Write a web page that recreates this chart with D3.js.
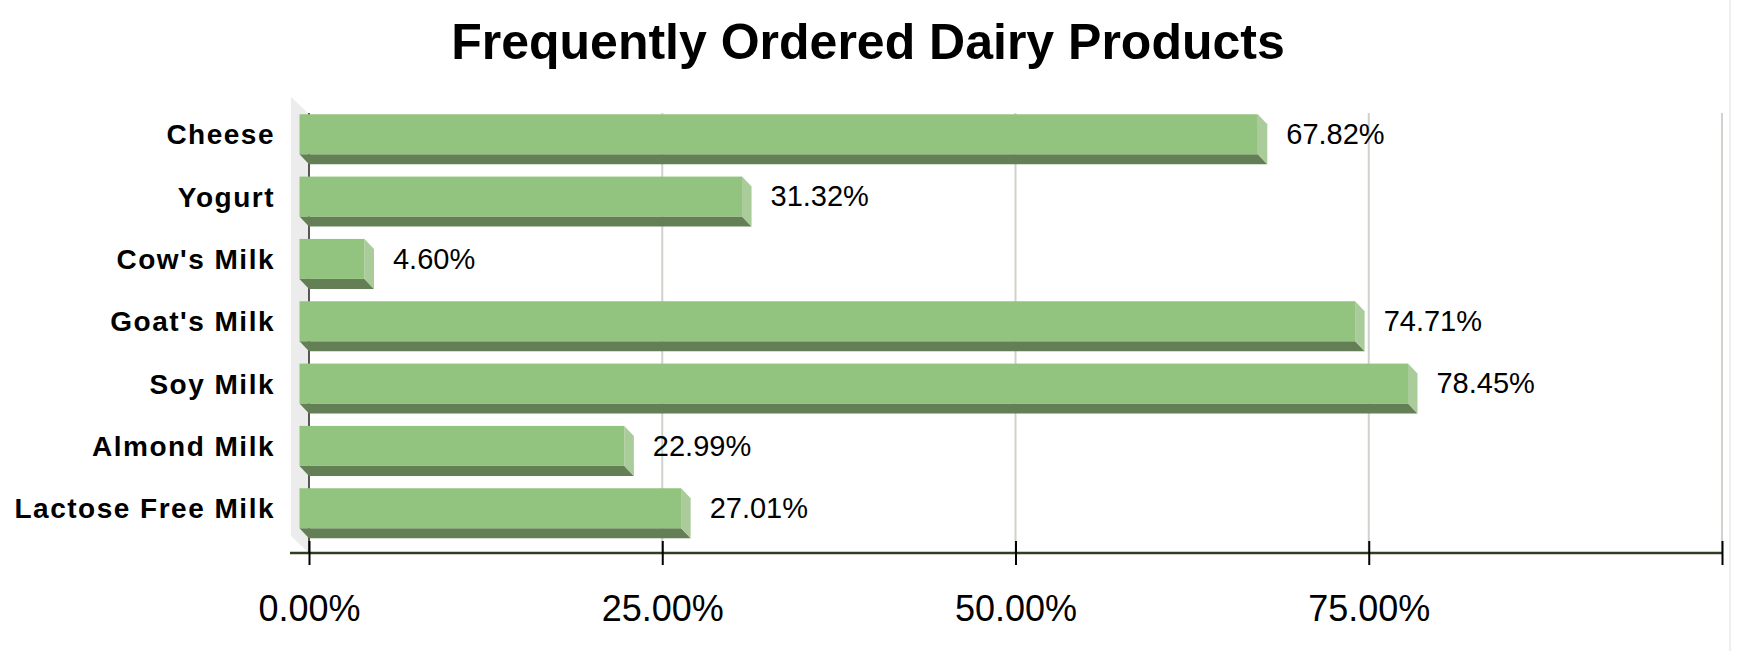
<!DOCTYPE html>
<html>
<head>
<meta charset="utf-8">
<script src="https://cdn.jsdelivr.net/npm/d3@7"></script>
<style>
  html, body { margin: 0; padding: 0; background: #ffffff; }
  svg { display: block; }
</style>
</head>
<body>
<svg id="chart" width="1738" height="651"></svg>
<script>
// ---- data ----
const categories = ["Cheese", "Yogurt", "Cow's Milk", "Goat's Milk", "Soy Milk", "Almond Milk", "Lactose Free Milk"];
const values = [0.6782, 0.3132, 0.0460, 0.7471, 0.7845, 0.2299, 0.2701];
const valueLabels = ["67.82%", "31.32%", "4.60%", "74.71%", "78.45%", "22.99%", "27.01%"];
const tickValues = [0, 0.25, 0.5, 0.75, 1.0];
const tickLabels = ["0.00%", "25.00%", "50.00%", "75.00%", ""];
const title = "Frequently Ordered Dairy Products";

// ---- layout ----
const W = 1738, H = 651;
const FONT = "'Liberation Sans', Arial, Helvetica, sans-serif";
const svg = d3.select("#chart");

const x = d3.scaleLinear().domain([0, 1]).range([309, 1722]);
const step = 62.33, p = 0.358;
const y = d3.scaleBand().domain(categories)
  .range([103.1, 103.1 + step * categories.length])
  .paddingInner(p).paddingOuter(p / 2);
const bw = y.bandwidth();
const dx = 9.5, dy = 10;
const axisY = 553;
const plotTop = 113;

// title
svg.append("text")
  .attr("x", 868).attr("y", 59)
  .attr("text-anchor", "middle")
  .attr("font-family", FONT).attr("font-weight", "bold")
  .attr("font-size", 50).attr("fill", "#000")
  .text(title);

// left wall (3D)
svg.append("polygon")
  .attr("points", [[291, 97], [309, 114], [309, axisY], [291, axisY - 17]].map(d => d.join(",")).join(" "))
  .attr("fill", "#ececec");

// gridlines
svg.append("g").selectAll("line")
  .data(tickValues.slice(1))
  .join("line")
  .attr("x1", d => x(d)).attr("x2", d => x(d))
  .attr("y1", plotTop).attr("y2", axisY)
  .attr("stroke", "#cdd3ca").attr("stroke-width", 2);

// zero line
svg.append("line")
  .attr("x1", x(0)).attr("x2", x(0))
  .attr("y1", plotTop).attr("y2", axisY)
  .attr("stroke", "#222").attr("stroke-width", 1.5);

// bars
const bars = svg.append("g").selectAll("g")
  .data(categories.map((c, i) => ({ c, v: values[i], lab: valueLabels[i] })))
  .join("g");

// bottom face
bars.append("polygon")
  .attr("points", d => {
    const y0 = y(d.c), x0 = x(0), x1 = x(d.v);
    return [[x0 - dx, y0 + bw], [x1 - dx, y0 + bw], [x1, y0 + bw + dy], [x0, y0 + bw + dy]].map(q => q.join(",")).join(" ");
  })
  .attr("fill", "#647e55");

// right side face
bars.append("polygon")
  .attr("points", d => {
    const y0 = y(d.c), x1 = x(d.v);
    return [[x1 - dx, y0], [x1, y0 + dy], [x1, y0 + bw + dy], [x1 - dx, y0 + bw]].map(q => q.join(",")).join(" ");
  })
  .attr("fill", "#aacb9a");

// front face
bars.append("rect")
  .attr("x", x(0) - dx)
  .attr("y", d => y(d.c))
  .attr("width", d => x(d.v) - x(0))
  .attr("height", bw)
  .attr("fill", "#93c47f");

// value labels
bars.append("text")
  .attr("x", d => x(d.v) + 19)
  .attr("y", d => y(d.c) + bw / 2 + 9.8)
  .attr("font-family", FONT).attr("font-size", 29).attr("fill", "#000")
  .text(d => d.lab);

// category labels
svg.append("g").selectAll("text")
  .data(categories)
  .join("text")
  .attr("x", 275)
  .attr("y", d => y(d) + bw / 2 + 10)
  .attr("text-anchor", "end")
  .attr("font-family", FONT).attr("font-weight", "bold")
  .attr("font-size", 28).attr("letter-spacing", "1.5px")
  .attr("fill", "#000")
  .text(d => d);

// x axis
const axis = d3.axisBottom(x)
  .tickValues(tickValues)
  .tickSize(12)
  .tickPadding(0)
  .tickFormat((d, i) => tickLabels[i]);

const gx = svg.append("g").attr("transform", `translate(0,${axisY})`).call(axis);
gx.select(".domain").remove();
gx.insert("line", ":first-child")
  .attr("x1", 290).attr("x2", x(1))
  .attr("y1", 0).attr("y2", 0)
  .attr("stroke", "#2c3f22").attr("stroke-width", 2.5);
gx.selectAll(".tick line")
  .attr("y1", -12).attr("y2", 12)
  .attr("stroke", "#000").attr("stroke-width", 2);
gx.selectAll(".tick text")
  .attr("y", 68).attr("dy", null)
  .attr("font-family", FONT).attr("font-size", 36).attr("fill", "#000");

// faint right border
svg.append("line")
  .attr("x1", 1730).attr("x2", 1730).attr("y1", 0).attr("y2", H)
  .attr("stroke", "#efefef").attr("stroke-width", 2);
</script>
</body>
</html>
